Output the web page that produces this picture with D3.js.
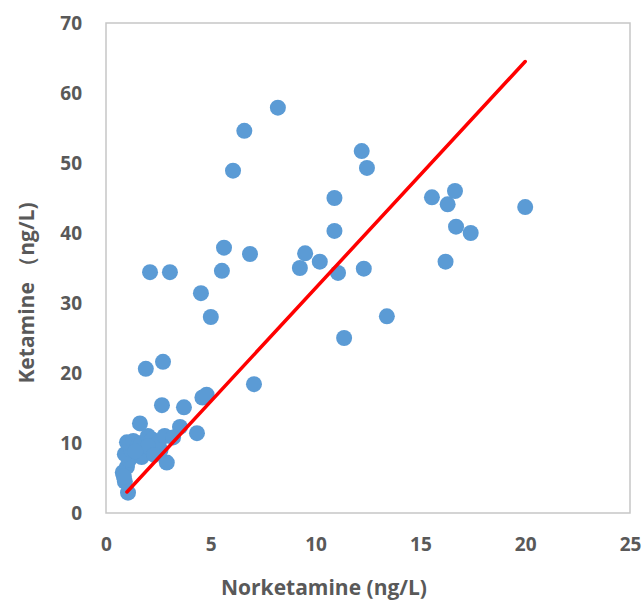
<!DOCTYPE html>
<html>
<head>
<meta charset="utf-8">
<script src="https://cdn.jsdelivr.net/npm/d3@7"></script>
<style>
  body { margin: 0; background: #fff; }
  text { font-family: "Open Sans", "Liberation Sans", sans-serif; }
</style>
</head>
<body>
<div id="viz"></div>
<script>
// norketamine (x) vs ketamine (y), ng/L
var norketamine = [
    8.2, 6.6, 6.06, 12.2, 12.45, 10.9, 10.9, 15.55, 16.65, 16.3, 16.7, 17.4, 20.0, 16.2,
    9.5, 9.25, 10.2, 11.07, 12.3, 5.63, 6.87, 5.53, 2.1, 3.05, 4.53, 5.0, 13.4, 11.36,
    7.06, 1.9, 2.72, 2.67, 3.72, 4.6, 4.8, 1.62, 3.53, 4.34, 2.9, 1.05,
    0.9, 0.8, 1.0, 1.1, 0.9, 1.2, 1.0, 1.3, 1.5, 1.7, 1.7, 2.0, 2.2, 2.5, 2.8, 2.6, 3.2, 2.0, 1.4, 2.3, 0.85
];
var ketamine = [
    57.9, 54.6, 48.9, 51.7, 49.3, 45.0, 40.3, 45.1, 46.0, 44.1, 40.9, 40.0, 43.7, 35.9,
    37.1, 35.0, 35.9, 34.3, 34.9, 37.9, 37.0, 34.6, 34.4, 34.4, 31.4, 28.0, 28.1, 25.0,
    18.4, 20.6, 21.6, 15.4, 15.1, 16.5, 16.9, 12.8, 12.3, 11.4, 7.2, 2.9,
    4.5, 5.8, 6.6, 7.6, 8.4, 9.0, 10.1, 10.3, 9.5, 10.0, 8.0, 11.0, 10.5, 10.0, 11.0, 9.0, 10.8, 9.5, 8.8, 8.3, 5.2
];
// fitted trend line end points
var fitX = [1.0, 20.0];
var fitY = [3.0, 64.5];

var xTicks = [0, 5, 10, 15, 20, 25];
var yTicks = [0, 10, 20, 30, 40, 50, 60, 70];

var width = 644, height = 609;
var plotLeft = 106, plotRight = 630, plotTop = 23, plotBottom = 513;

var svg = d3.select("#viz").append("svg")
    .attr("width", width)
    .attr("height", height);

var x = d3.scaleLinear().domain([0, 25]).range([plotLeft, plotRight]);
var y = d3.scaleLinear().domain([0, 70]).range([plotBottom, plotTop]);

// plot frame
svg.append("rect")
    .attr("x", plotLeft)
    .attr("y", plotTop)
    .attr("width", plotRight - plotLeft)
    .attr("height", plotBottom - plotTop)
    .style("fill", "none")
    .style("stroke", "#c6c6c6")
    .style("stroke-width", 1.5);

// axes (labels only, no tick marks)
var xAxis = d3.axisBottom(x).tickValues(xTicks).tickSize(0).tickPadding(0);
var yAxis = d3.axisLeft(y).tickValues(yTicks).tickSize(0).tickPadding(0);

var gx = svg.append("g")
    .attr("transform", "translate(0," + (plotBottom + 24) + ")")
    .call(xAxis);
var gy = svg.append("g")
    .attr("transform", "translate(" + (plotLeft - 24) + ",0)")
    .call(yAxis);

[gx, gy].forEach(function(g) {
    g.select(".domain").remove();
    g.selectAll("text")
        .attr("fill", "#595959")
        .style("font-size", "19px")
        .style("font-weight", "bold")
        .style("font-family", "'Open Sans', sans-serif");
});
gx.selectAll("text").attr("dy", "0.71em");

// points
svg.append("g").selectAll("circle")
    .data(norketamine.map(function(v, i) { return {x: v, y: ketamine[i]}; }))
    .enter()
    .append("circle")
    .attr("cx", function(d) { return x(d.x); })
    .attr("cy", function(d) { return y(d.y); })
    .attr("r", 8)
    .style("fill", "#5B9BD5");

// trend line
var line = d3.line()
    .x(function(d) { return x(d.x); })
    .y(function(d) { return y(d.y); });

svg.append("path")
    .attr("d", line(fitX.map(function(v, i) { return {x: v, y: fitY[i]}; })))
    .style("stroke", "#FF0000")
    .style("stroke-width", 3.5)
    .style("stroke-linecap", "round")
    .style("fill", "none");

// axis titles
svg.append("text")
    .attr("x", 324)
    .attr("y", 595)
    .attr("text-anchor", "middle")
    .attr("fill", "#595959")
    .style("font-size", "21px")
    .style("font-weight", "bold")
    .text("Norketamine (ng/L)");

svg.append("text")
    .attr("transform", "translate(34,293) rotate(-90)")
    .attr("text-anchor", "middle")
    .attr("fill", "#595959")
    .style("font-size", "21px")
    .style("font-weight", "bold")
    .text("Ketamine （ng/L)");
</script>
</body>
</html>
